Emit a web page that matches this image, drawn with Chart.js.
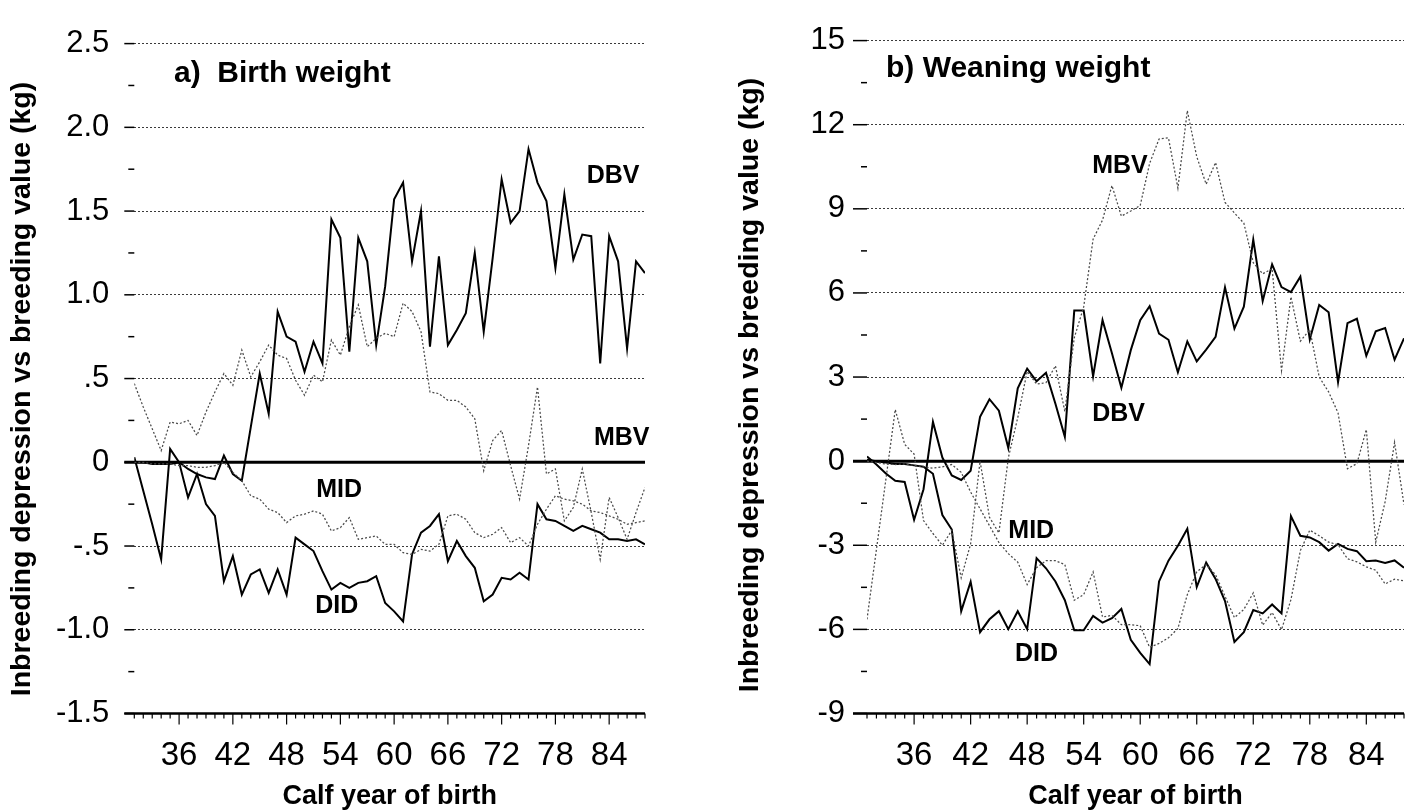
<!DOCTYPE html>
<html>
<head>
<meta charset="utf-8">
<title>Inbreeding depression vs breeding value</title>
<script src="https://cdn.jsdelivr.net/npm/chart.js@4.4.1/dist/chart.umd.min.js"></script>
<style>
  html, body { margin: 0; padding: 0; background: #fff; }
  #page { position: relative; width: 1414px; height: 812px; overflow: hidden; background: #fff; }
  #page canvas { position: absolute; top: 0; }
</style>
</head>
<body>
<div id="page">
  <canvas id="bw" width="707" height="812" style="left:0"></canvas>
  <canvas id="ww" width="707" height="812" style="left:707px"></canvas>
</div>
<script>
// calf year of birth (19xx)
const years = [31, 32, 33, 34, 35, 36, 37, 38, 39, 40, 41, 42, 43, 44, 45, 46, 47, 48, 49, 50,
  51, 52, 53, 54, 55, 56, 57, 58, 59, 60, 61, 62, 63, 64, 65, 66, 67, 68, 69, 70,
  71, 72, 73, 74, 75, 76, 77, 78, 79, 80, 81, 82, 83, 84, 85, 86, 87, 88];

// a) Birth weight (kg)
const bwDBV = [0.03, -0.17, -0.37, -0.58, 0.08, 0.00, -0.04, -0.07, -0.09, -0.10,
  0.04, -0.07, -0.11, 0.21, 0.53, 0.29, 0.90, 0.75, 0.72, 0.54,
  0.72, 0.59, 1.45, 1.34, 0.66, 1.34, 1.20, 0.70, 1.05, 1.57,
  1.67, 1.20, 1.50, 0.69, 1.23, 0.70, 0.79, 0.89, 1.25, 0.78,
  1.22, 1.69, 1.43, 1.50, 1.87, 1.67, 1.56, 1.16, 1.60, 1.21,
  1.36, 1.35, 0.59, 1.35, 1.20, 0.68, 1.20, 1.13];
const bwMBV = [0.47, 0.33, 0.20, 0.07, 0.24, 0.23, 0.25, 0.16, 0.30, 0.42,
  0.53, 0.46, 0.67, 0.51, 0.60, 0.70, 0.64, 0.62, 0.49, 0.40,
  0.52, 0.48, 0.73, 0.64, 0.81, 0.94, 0.69, 0.74, 0.77, 0.75,
  0.95, 0.90, 0.78, 0.42, 0.41, 0.37, 0.37, 0.33, 0.26, -0.05,
  0.13, 0.19, -0.02, -0.22, 0.10, 0.45, -0.07, -0.04, -0.35, -0.27,
  -0.04, -0.30, -0.58, -0.21, -0.33, -0.46, -0.30, -0.15];
const bwMID = [0.00, 0.00, -0.01, -0.01, -0.01, -0.02, -0.02, -0.03, -0.03, -0.02,
  0.00, -0.06, -0.11, -0.20, -0.22, -0.28, -0.30, -0.36, -0.32, -0.31,
  -0.29, -0.31, -0.41, -0.39, -0.33, -0.46, -0.45, -0.44, -0.49, -0.49,
  -0.54, -0.55, -0.52, -0.53, -0.49, -0.32, -0.31, -0.34, -0.42, -0.45,
  -0.43, -0.39, -0.48, -0.45, -0.50, -0.37, -0.28, -0.20, -0.22, -0.23,
  -0.25, -0.29, -0.30, -0.32, -0.34, -0.37, -0.36, -0.35];
const bwDID = [0.00, 0.00, -0.01, -0.01, -0.01, 0.00, -0.21, -0.07, -0.25, -0.32,
  -0.71, -0.56, -0.79, -0.67, -0.64, -0.78, -0.64, -0.79, -0.45, -0.49,
  -0.53, -0.65, -0.76, -0.72, -0.75, -0.72, -0.71, -0.68, -0.84, -0.89,
  -0.95, -0.55, -0.42, -0.38, -0.31, -0.59, -0.47, -0.56, -0.63, -0.83,
  -0.79, -0.69, -0.70, -0.66, -0.70, -0.25, -0.34, -0.35, -0.38, -0.41,
  -0.38, -0.40, -0.42, -0.46, -0.46, -0.47, -0.46, -0.49];

// b) Weaning weight (kg)
const wwDBV = [0.17, -0.12, -0.44, -0.70, -0.74, -2.09, -1.00, 1.40, 0.13, -0.51,
  -0.67, -0.34, 1.58, 2.21, 1.80, 0.47, 2.60, 3.30, 2.85, 3.15,
  2.05, 0.87, 5.37, 5.37, 3.03, 5.03, 3.85, 2.62, 3.96, 5.03,
  5.53, 4.55, 4.33, 3.17, 4.27, 3.56, 3.98, 4.43, 6.20, 4.73,
  5.51, 7.90, 5.71, 7.02, 6.21, 6.03, 6.58, 4.34, 5.57, 5.31,
  2.82, 4.92, 5.08, 3.76, 4.63, 4.75, 3.62, 4.38];
const wwMBV = [-5.64, -3.15, -0.66, 1.84, 0.60, 0.25, -2.12, -2.58, -3.00, -2.47,
  -4.16, -2.95, 0.00, -2.00, -2.56, 0.12, 1.55, 3.20, 2.75, 2.80,
  3.40, 1.77, 4.40, 5.50, 7.92, 8.60, 9.83, 8.74, 8.92, 9.12,
  10.62, 11.49, 11.53, 9.74, 12.50, 10.86, 9.88, 10.65, 9.23, 8.85,
  8.49, 7.08, 6.68, 6.87, 3.23, 5.86, 4.28, 4.69, 3.00, 2.47,
  1.72, -0.27, -0.09, 1.13, -2.89, -1.44, 0.67, -1.55];
const wwMID = [0.00, -0.05, -0.10, -0.12, -0.10, -0.15, -0.20, -0.25, -0.20, -0.12,
  -0.40, -1.10, -1.70, -2.30, -2.90, -3.30, -3.60, -4.40, -3.80, -3.55,
  -3.55, -3.69, -4.96, -4.76, -3.95, -5.56, -5.50, -5.83, -5.83, -5.87,
  -6.64, -6.50, -6.30, -5.97, -4.76, -3.95, -3.69, -4.05, -4.82, -5.58,
  -5.29, -4.70, -5.85, -5.40, -6.01, -4.94, -3.19, -2.46, -2.66, -2.89,
  -2.98, -3.48, -3.59, -3.77, -3.89, -4.38, -4.21, -4.27];
const wwDID = [0.05, 0.00, -0.05, -0.10, -0.10, -0.15, -0.20, -0.45, -1.92, -2.44,
  -5.35, -4.30, -6.10, -5.64, -5.35, -5.99, -5.35, -5.99, -3.46, -3.82,
  -4.29, -4.96, -6.03, -6.03, -5.52, -5.76, -5.60, -5.27, -6.37, -6.84,
  -7.24, -4.29, -3.55, -3.02, -2.41, -4.49, -3.62, -4.20, -4.99, -6.45,
  -6.10, -5.31, -5.43, -5.11, -5.43, -1.96, -2.66, -2.72, -2.89, -3.19,
  -2.95, -3.13, -3.21, -3.57, -3.54, -3.63, -3.54, -3.80];

// axis ticks
const xTickYears = [36, 42, 48, 54, 60, 66, 72, 78, 84];
const bwYTicks = [-1.5, -1, -0.5, 0, 0.5, 1, 1.5, 2, 2.5];
const bwYLabels = ['-1.5', '-1.0', '-.5', '0', '.5', '1.0', '1.5', '2.0', '2.5'];
const wwYTicks = [-9, -6, -3, 0, 3, 6, 9, 12, 15];
const wwYLabels = ['-9', '-6', '-3', '0', '3', '6', '9', '12', '15'];

const FONT = '"Liberation Sans", Arial, Helvetica, sans-serif';
const Y_TITLE = 'Inbreeding depression vs breeding value (kg)';

function makePanel(id, cfg) {
  const yMin = cfg.yTicks[0];
  const yMax = cfg.yTicks[cfg.yTicks.length - 1];
  const pts = vals => years.map((yr, i) => ({ x: yr, y: vals[i] }));
  const solid = { borderColor: '#000', borderWidth: 2, pointRadius: 0, tension: 0, fill: false };
  const dotted = { borderColor: '#4a4a4a', borderWidth: 1.25, borderDash: [2, 2], pointRadius: 0, tension: 0, fill: false };

  const line = (ctx, x1, y1, x2, y2) => {
    ctx.beginPath(); ctx.moveTo(x1, y1); ctx.lineTo(x2, y2); ctx.stroke();
  };

  const decor = {
    id: 'decor',
    beforeDatasetsDraw(chart) {
      const { ctx, chartArea: a, scales: { x, y } } = chart;
      ctx.save();
      ctx.strokeStyle = '#000';
      // y tick marks: major ones run into the grid, minor ones are short dashes
      ctx.lineWidth = 1.5;
      cfg.yTicks.forEach(v => {
        const py = y.getPixelForValue(v);
        line(ctx, a.left - cfg.ext, py, a.left, py);
      });
      for (let i = 0; i < cfg.yTicks.length - 1; i++) {
        const py = y.getPixelForValue((cfg.yTicks[i] + cfg.yTicks[i + 1]) / 2);
        line(ctx, a.left - 6, py, a.left, py);
      }
      // zero reference line
      const y0 = y.getPixelForValue(0);
      ctx.lineWidth = 3;
      line(ctx, a.left - cfg.ext, y0, a.right, y0);
      // bottom axis and year ticks
      const yb = y.getPixelForValue(yMin);
      ctx.lineWidth = 2.5;
      line(ctx, a.left - cfg.ext, yb, a.right, yb);
      ctx.lineWidth = 1.2;
      for (let yr = years[0]; yr <= years[years.length - 1]; yr++) {
        const px = x.getPixelForValue(yr);
        line(ctx, px, yb, px, yb + (xTickYears.includes(yr) ? 11 : 5));
      }
      ctx.restore();
    },
    afterDraw(chart) {
      const { ctx, scales: { x, y } } = chart;
      ctx.save();
      ctx.fillStyle = '#000';
      ctx.textBaseline = 'alphabetic';
      ctx.textAlign = 'left';
      ctx.font = 'bold 30px ' + FONT;
      ctx.fillText(cfg.title, cfg.titleX, cfg.titleY);
      ctx.font = 'bold 25px ' + FONT;
      cfg.labels.forEach(l => ctx.fillText(l.text, x.getPixelForValue(l.x), y.getPixelForValue(l.y)));
      // y axis title
      ctx.translate(cfg.yTitleX, cfg.yTitleY);
      ctx.rotate(-Math.PI / 2);
      ctx.textAlign = 'center';
      ctx.textBaseline = 'middle';
      ctx.font = 'bold 28.5px ' + FONT;
      ctx.fillText(Y_TITLE, 0, 0);
      ctx.restore();
    }
  };

  return new Chart(document.getElementById(id), {
    type: 'line',
    data: {
      datasets: [
        { label: 'MBV', data: pts(cfg.mbv), ...dotted },
        { label: 'MID', data: pts(cfg.mid), ...dotted },
        { label: 'DBV', data: pts(cfg.dbv), ...solid },
        { label: 'DID', data: pts(cfg.did), ...solid }
      ]
    },
    options: {
      responsive: false,
      animation: false,
      devicePixelRatio: 1,
      layout: { padding: { left: 0, right: cfg.padRight, top: 22.5, bottom: 0 } },
      plugins: { legend: { display: false }, tooltip: { enabled: false } },
      scales: {
        x: {
          type: 'linear',
          position: 'bottom',
          min: years[0],
          max: years[years.length - 1],
          afterBuildTicks: s => { s.ticks = xTickYears.map(v => ({ value: v })); },
          afterFit: s => { s.height = 98.5; },
          ticks: {
            autoSkip: false, maxRotation: 0, padding: 23, color: '#000',
            font: { family: FONT, size: 33 },
            callback: v => String(v)
          },
          grid: { display: false, drawTicks: false },
          border: { display: false },
          title: {
            display: true, text: 'Calf year of birth', color: '#000',
            font: { family: FONT, size: 27, weight: 'bold', lineHeight: 1 },
            padding: { top: 0, bottom: 2 }
          }
        },
        y: {
          min: yMin,
          max: yMax,
          afterBuildTicks: s => { s.ticks = cfg.yTicks.map(v => ({ value: v })); },
          afterFit: s => { s.width = cfg.axisWidth; },
          ticks: {
            padding: cfg.labelPad, color: '#000',
            font: { family: FONT, size: 31 },
            callback: v => cfg.yLabels[cfg.yTicks.indexOf(v)]
          },
          grid: {
            drawTicks: false,
            lineWidth: 1,
            color: c => (c.tick && (c.tick.value === 0 || c.tick.value === yMin)) ? 'rgba(0,0,0,0)' : '#3a3a3a'
          },
          border: { display: false, dash: [2, 2] }
        }
      }
    },
    plugins: [decor]
  });
}

makePanel('bw', {
  dbv: bwDBV, mbv: bwMBV, mid: bwMID, did: bwDID,
  yTicks: bwYTicks, yLabels: bwYLabels,
  axisWidth: 134.3, padRight: 62, labelPad: 25, ext: 10,
  title: 'a)  Birth weight', titleX: 174, titleY: 82,
  yTitleX: 22, yTitleY: 389,
  labels: [
    { text: 'DBV', x: 81.5, y: 1.668 },
    { text: 'MBV', x: 82.3, y: 0.104 },
    { text: 'MID', x: 51.3, y: -0.208 },
    { text: 'DID', x: 51.2, y: -0.90 }
  ]
});

makePanel('ww', {
  dbv: wwDBV, mbv: wwMBV, mid: wwMID, did: wwDID,
  yTicks: wwYTicks, yLabels: wwYLabels,
  axisWidth: 160, padRight: 10, labelPad: 22, ext: 14,
  title: 'b) Weaning weight', titleX: 179, titleY: 77,
  yTitleX: 43, yTitleY: 385,
  labels: [
    { text: 'MBV', x: 54.9, y: 10.26 },
    { text: 'DBV', x: 54.9, y: 1.45 },
    { text: 'MID', x: 46.0, y: -2.74 },
    { text: 'DID', x: 46.7, y: -7.13 }
  ]
});
</script>
</body>
</html>
